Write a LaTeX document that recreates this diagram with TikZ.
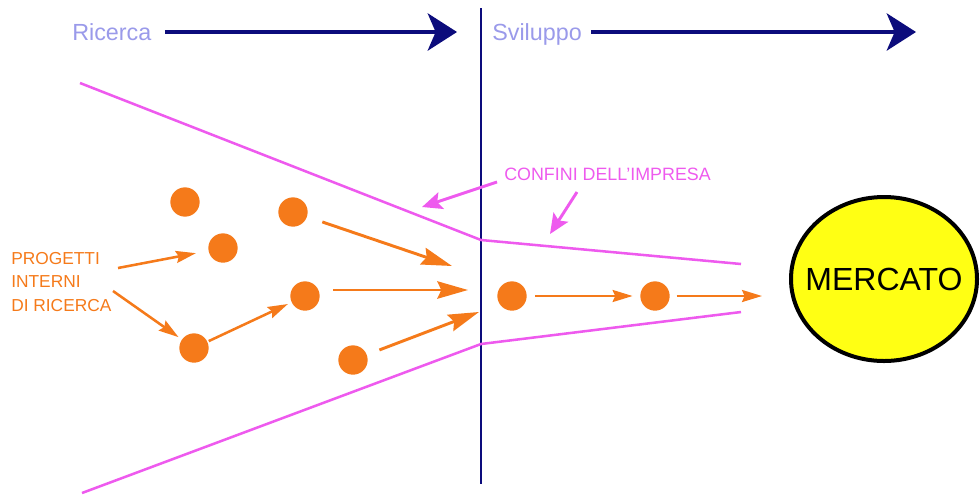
\documentclass[tikz,border=0pt]{standalone}
\usepackage{fontspec}
\setmainfont{Liberation Sans}
\setsansfont{Liberation Sans}
\usetikzlibrary{arrows.meta,calc,positioning,shapes.geometric}
\definecolor{PhaseNavy}{HTML}{0C0C7C}
\definecolor{PhaseLilac}{HTML}{9A9AEA}
\definecolor{EdgeMagenta}{HTML}{EE5AEE}
\definecolor{ProjOrange}{HTML}{F57A1A}
\definecolor{MarketYellow}{HTML}{FFFF14}
\tikzset{
  every node/.style={font=\sffamily},
  phaselabel/.style={text=PhaseLilac, font=\sffamily\fontsize{17.5}{19}\selectfont, inner sep=0pt, anchor=base west},
  phase/.style={-{Stealth[length=22pt,width=28pt,inset=6pt]}, draw=PhaseNavy, line width=2.6pt},
  divider/.style={draw=PhaseNavy, line width=2.2pt},
  boundary/.style={draw=EdgeMagenta, line width=1.9pt, line join=round},
  pointer/.style={-{Stealth[length=15pt,width=13pt,inset=3pt]}, draw=EdgeMagenta, line width=2.2pt},
  project/.style={circle, fill=ProjOrange, minimum size=22pt, inner sep=0pt},
  push/.style={-{Stealth[length=23pt,width=13pt,inset=3pt]}, draw=ProjOrange, line width=2.2pt},
  advance/.style={-{Stealth[length=15pt,width=9pt,inset=2pt]}, draw=ProjOrange, line width=1.9pt},
  market/.style={ellipse, draw=black, line width=3pt, fill=MarketYellow, minimum width=139.5pt, minimum height=123pt, inner sep=0pt},
}

\begin{document}
\begin{tikzpicture}[x=0.75pt,y=-0.75pt]
  \useasboundingbox (0,0) rectangle (980,494);

  % Phases along the top
  \node[phaselabel] (ricerca) at (72,40) {Ricerca};
  \node[phaselabel] (sviluppo) at (492,40) {Sviluppo};
  \coordinate (ricercatip) at (457,32);
  \coordinate (svilupptip) at (916,32);
  \draw[phase, shorten <=10pt] (ricerca.east |- ricercatip) -- (ricercatip);
  \draw[phase, shorten <=7pt] (sviluppo.east |- svilupptip) -- (svilupptip);

  % Research / development divide
  \draw[divider] (481,8) -- (481,484);

  % Company boundaries (funnel)
  \draw[boundary] (80,83) -- (481,240) -- (741,264);
  \draw[boundary] (82,493) -- (481,344) -- (741,312);

  % Boundary label and pointers
  \node[text=EdgeMagenta, font=\sffamily\fontsize{13.4}{15}\selectfont, inner sep=0pt, anchor=base west] (confini) at (504,180) {CONFINI DELL'IMPRESA};
  \coordinate (confinistart1) at (497,182);
  \coordinate (confinitip1) at (422,207);
  \coordinate (confinistart2) at (577,192);
  \coordinate (confinitip2) at (550,234);
  \draw[pointer] (confinistart1) -- (confinitip1);
  \draw[pointer] (confinistart2) -- (confinitip2);

  % Internal research projects
  \node[project] (a) at (185,202) {};
  \node[project] (b) at (293,212) {};
  \node[project] (c) at (223,248) {};
  \node[project] (d) at (305,296) {};
  \node[project] (e) at (194,348) {};
  \node[project] (f) at (353,360) {};
  \node[project] (g) at (512,296) {};
  \node[project] (h) at (655,296) {};

  \node[text=ProjOrange, font=\sffamily\fontsize{13}{17.6}\selectfont, align=left, inner sep=0pt, anchor=north west] (progetti) at (11,252) {PROGETTI\\INTERNI\\DI RICERCA};
  \coordinate (progstart1) at (118,268);
  \coordinate (progstart2) at (113,291);
  \draw[advance, shorten >=9.5pt] (progstart1) -- (c);
  \draw[advance, shorten >=3pt] (progstart2) -- (e);

  % Flow towards the boundary
  \coordinate (fanb) at (452,266);
  \coordinate (fand) at (468,290);
  \coordinate (fanf) at (479,312);
  \draw[advance, shorten <=1pt, shorten >=3pt] (e) -- (d);
  \draw[push, shorten <=12pt] (b) -- (fanb);
  \draw[push, shorten <=10pt] (d.east |- fand) -- (fand);
  \draw[push, shorten <=10pt] (f) -- (fanf);

  % Development and market
  \node[market] (mercato) at (884,279) {\makebox[0pt]{\fontsize{24}{26}\selectfont MERCATO}};
  \coordinate (mercatotip) at (762,296);
  \draw[advance, shorten <=6.4pt, shorten >=5.6pt] (g) -- (h);
  \draw[advance, shorten <=5pt] (h) -- (mercatotip);
\end{tikzpicture}
\end{document}
